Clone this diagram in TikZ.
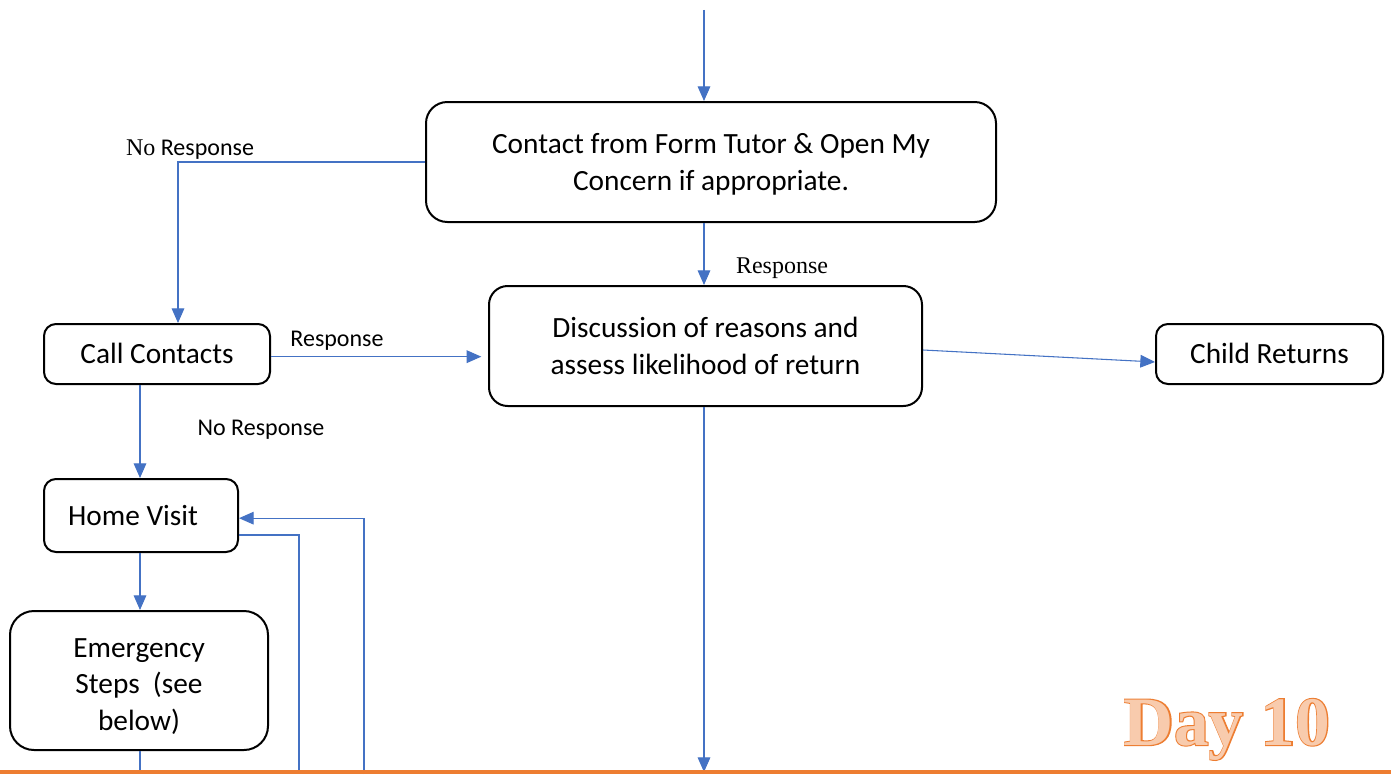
\documentclass[tikz,border=0pt]{standalone}
\usepackage{fontspec}
\setmainfont{Carlito}
\newfontfamily\tnr{Liberation Serif}
\newfontfamily\dayfill{Liberation Serif Bold}
\newfontfamily\dayline{Liberation Serif Bold}[FakeBold=3]
\usetikzlibrary{arrows.meta}
\definecolor{lineblue}{HTML}{4472C4}
\definecolor{orangeline}{HTML}{ED7D31}
\definecolor{peach}{HTML}{F8CBAD}
\tikzset{
  box/.style={draw=black, line width=1.5pt, fill=white, inner sep=0pt, align=center,
    font=\fontsize{22}{27.5}\selectfont},
  conn/.style={draw=lineblue, line width=0.8pt},
  arr/.style={conn, -{Triangle[length=11pt,width=9.5pt]}},
  lbl/.style={font=\fontsize{18}{21}\selectfont, inner sep=0pt},
  tlbl/.style={font=\fontsize{18}{21}\tnr, inner sep=0pt}
}
\newcommand{\lowered}[2]{\raisebox{-#1}[\height][\depth]{\begin{tabular}{@{}c@{}}#2\end{tabular}}}
\begin{document}
\begin{tikzpicture}[x=0.75pt,y=-0.75pt]
\useasboundingbox (0,0) rectangle (1391,774);
\fill[white] (0,0) rectangle (1391,774);

\node[box, rounded corners=16pt, minimum width=427.5pt, minimum height=90pt] (top) at (711,162)
  {\lowered{2pt}{Contact from Form Tutor \& Open My\\Concern if appropriate.}};
\node[box, rounded corners=14pt, minimum width=324.75pt, minimum height=90pt] (disc) at (705.5,346)
  {Discussion of reasons and\\assess likelihood of return};
\node[box, rounded corners=9pt, minimum width=169.5pt, minimum height=45pt] (call) at (157,354)
  {\lowered{1.5pt}{Call Contacts}};
\node[box, rounded corners=9pt, minimum width=170.25pt, minimum height=45pt] (child) at (1269.5,354)
  {\lowered{1.5pt}{Child Returns}};
\node[box, rounded corners=9pt, minimum width=145.5pt, minimum height=54.75pt] (home) at (141,515.5)
  {\hspace*{-12pt}Home Visit};
\node[box, rounded corners=18pt, minimum width=193.5pt, minimum height=104.25pt] (emerg) at (139,680.5)
  {\lowered{4.5pt}{Emergency\\Steps~ (see\\below)}};

\coordinate (in0) at (704,10);
\coordinate (c1) at (178,162);
\coordinate (b0) at (140,774);
\coordinate (b1) at (299,774);
\coordinate (b2) at (364,774);
\coordinate (b3) at (704,772);

\draw[arr] (in0) -- (in0 |- top.north);
\draw[arr] (top.west) -- (c1) -- (c1 |- call.north);
\draw[arr] (top.south -| in0) -- (disc.north -| in0);
\draw[arr, shorten >=5pt] ([yshift=-2pt]call.east) -- ([yshift=-2pt]call.east -| disc.west);
\draw[arr] ([yshift=-3pt]disc.east) -- ([yshift=-6pt]child.west);
\draw[arr] (call.south -| b0) -- (home.north -| b0);
\draw[arr] (home.south -| b0) -- (emerg.north -| b0);
\draw[conn] (emerg.south -| b0) -- (b0);
\draw[conn] ([yshift=-14.6pt]home.east) -| (b1);
\draw[arr] (b2) |- ([yshift=-2pt]home.east);
\draw[arr] (disc.south -| b3) -- (b3);

\node[lbl] (l1) at (190,150) {{\tnr No} Response};
\node[tlbl] (l2) at (782,268) {Response};
\node[lbl] (l3) at (337,341) {Response};
\node[lbl] (l4) at (261,430) {No Response};

\draw[orangeline, line width=2.4pt] (0,772) -- (1391,772);

\node[anchor=base, inner sep=0pt, text=orangeline, font=\fontsize{52}{60}\dayline] (dayo) at (1227,745) {Day 10};
\node[anchor=base, inner sep=0pt, text=peach, font=\fontsize{52}{60}\dayfill] (day) at (1227,745) {Day 10};
\end{tikzpicture}
\end{document}
